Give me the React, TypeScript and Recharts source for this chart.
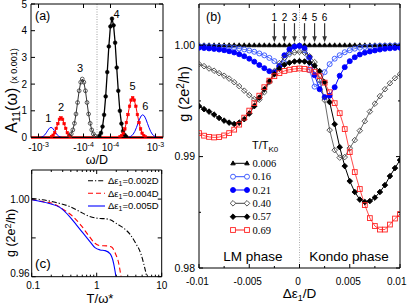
import React from 'react';
import { LineChart, ComposedChart, Line, XAxis, YAxis, ReferenceLine, ReferenceDot } from 'recharts';

const FONT = "'Liberation Sans', Arial, Helvetica, sans-serif";
const SERIF = "'Liberation Serif', 'Times New Roman', serif";

// ---------------- Panel (a): A11(omega), symmetric log axis ----------------
// x position u = sign(omega) * (log10|omega| + A_LOG_OFFSET)
const A_LOG_OFFSET = 4.3;
const A_EDGE_LOG = -2.8333; // |omega|/D at the plot edges
const aTickDefs = [
  { side: -1, exp: -3 },
  { side: -1, exp: -4 },
  { side: 1, exp: -4 },
  { side: 1, exp: -3 },
];
const aYTicks = [0, 1, 2, 3, 4, 5];

// [log10|omega/D|, A11 (x0.001)]
const peak1 = { side: -1, pts: [[-3.523, 0], [-3.488, 0.017], [-3.453, 0.043], [-3.418, 0.095], [-3.383, 0.174], [-3.348, 0.27], [-3.313, 0.35], [-3.278, 0.38], [-3.243, 0.35], [-3.208, 0.27], [-3.173, 0.174], [-3.138, 0.095], [-3.103, 0.043], [-3.068, 0.017], [-3.033, 0]] };
const peak2 = { side: -1, pts: [[-3.745, 0], [-3.71, 0.033], [-3.675, 0.084], [-3.64, 0.18], [-3.605, 0.34], [-3.57, 0.52], [-3.535, 0.68], [-3.5, 0.74], [-3.465, 0.68], [-3.43, 0.52], [-3.395, 0.34], [-3.36, 0.18], [-3.325, 0.084], [-3.29, 0.033], [-3.255, 0]] };
const peak3 = { side: -1, pts: [[-4.288, 0], [-4.253, 0.058], [-4.218, 0.136], [-4.183, 0.285], [-4.148, 0.53], [-4.113, 0.88], [-4.078, 1.31], [-4.043, 1.75], [-4.008, 2.07], [-3.973, 2.19], [-3.938, 2.07], [-3.903, 1.75], [-3.868, 1.31], [-3.833, 0.88], [-3.798, 0.53], [-3.763, 0.285], [-3.728, 0.136], [-3.693, 0.058], [-3.658, 0]] };
const peak4 = { side: 1, pts: [[-4.282, 0], [-4.247, 0.06], [-4.212, 0.17], [-4.177, 0.41], [-4.142, 0.85], [-4.107, 1.54], [-4.072, 2.45], [-4.037, 3.41], [-4.002, 4.16], [-3.967, 4.45], [-3.932, 4.2], [-3.897, 3.55], [-3.862, 2.62], [-3.827, 1.75], [-3.792, 1.0], [-3.757, 0.52], [-3.722, 0.24], [-3.687, 0.1], [-3.652, 0.03], [-3.617, 0]] };
const peak5 = { side: 1, pts: [[-3.822, 0], [-3.787, 0.03], [-3.752, 0.074], [-3.717, 0.16], [-3.682, 0.32], [-3.647, 0.56], [-3.612, 0.86], [-3.577, 1.17], [-3.542, 1.4], [-3.507, 1.49], [-3.472, 1.4], [-3.437, 1.17], [-3.402, 0.86], [-3.367, 0.56], [-3.332, 0.32], [-3.297, 0.16], [-3.262, 0.074], [-3.227, 0.03], [-3.192, 0]] };
const peak6 = { side: 1, pts: [[-3.599, 0], [-3.564, 0.03], [-3.529, 0.068], [-3.494, 0.13], [-3.459, 0.23], [-3.424, 0.37], [-3.389, 0.53], [-3.354, 0.69], [-3.319, 0.81], [-3.284, 0.85], [-3.249, 0.81], [-3.214, 0.69], [-3.179, 0.53], [-3.144, 0.37], [-3.109, 0.23], [-3.074, 0.13], [-3.039, 0.068], [-3.004, 0.03], [-2.969, 0]] };
const peakLabels = ['1', '2', '3', '4', '5', '6'];

// ---------------- Panel (b): g vs delta eps1 ----------------
const epsGrid = [-0.01, -0.0095, -0.009, -0.0085, -0.008, -0.0075, -0.007, -0.0065, -0.006, -0.0055, -0.005, -0.0045, -0.004, -0.0035, -0.003, -0.0025, -0.002, -0.0015, -0.001, -0.0005, 0, 0.0005, 0.001, 0.0015, 0.002, 0.0025, 0.003, 0.0035, 0.004, 0.0045, 0.005, 0.0055, 0.006, 0.0065, 0.007, 0.0075, 0.008, 0.0085, 0.009, 0.0095, 0.01];
const g006 = [1, 1, 1, 1, 1, 1, 1, 1, 1, 1, 1, 1, 1, 1, 1, 1, 1, 1, 1, 1, 1, 1, 1, 1, 1, 1, 1, 1, 1, 1, 1, 1, 1, 1, 1, 1, 1, 1, 1, 1, 1];
const g016 = [0.99993, 0.99992, 0.99991, 0.99989, 0.99987, 0.99985, 0.99981, 0.99977, 0.9997, 0.99962, 0.99952, 0.99941, 0.99926, 0.99909, 0.99886, 0.99857, 0.99816, 0.99839, 0.99937, 0.99987, 0.99996, 0.99955, 0.99776, 0.99628, 0.9965, 0.99758, 0.9983, 0.99879, 0.9991, 0.99937, 0.99955, 0.99969, 0.99978, 0.99984, 0.99988, 0.99992, 0.99995, 0.99996, 0.99997, 0.99998, 0.99999];
const g021 = [0.99978, 0.99975, 0.99971, 0.99967, 0.99961, 0.99955, 0.99946, 0.99935, 0.99919, 0.99901, 0.99879, 0.99852, 0.99822, 0.99794, 0.99767, 0.99758, 0.99812, 0.9991, 0.99964, 0.99987, 0.99993, 0.99973, 0.99892, 0.99731, 0.99605, 0.99534, 0.99547, 0.99623, 0.99726, 0.99803, 0.99857, 0.99892, 0.99917, 0.99933, 0.99944, 0.99953, 0.99961, 0.99968, 0.99972, 0.99976, 0.99978];
const g040 = [0.9983, 0.99812, 0.99791, 0.99771, 0.99749, 0.99726, 0.997, 0.99668, 0.99632, 0.99592, 0.99552, 0.99516, 0.99511, 0.99578, 0.99668, 0.99767, 0.99839, 0.99888, 0.99919, 0.99935, 0.9994, 0.99933, 0.99901, 0.99848, 0.99686, 0.99507, 0.99238, 0.99058, 0.98991, 0.98996, 0.99076, 0.99148, 0.99233, 0.99318, 0.99404, 0.99475, 0.99543, 0.99605, 0.99659, 0.99704, 0.9974];
const g057 = [0.99453, 0.99426, 0.99404, 0.99377, 0.99347, 0.99323, 0.99305, 0.99293, 0.99305, 0.99336, 0.99386, 0.99453, 0.99529, 0.99605, 0.99677, 0.9974, 0.99789, 0.99825, 0.99843, 0.99854, 0.99857, 0.99854, 0.99843, 0.99816, 0.99767, 0.99668, 0.99489, 0.99291, 0.99085, 0.98915, 0.9878, 0.98682, 0.98614, 0.98592, 0.98601, 0.98632, 0.98682, 0.98744, 0.98825, 0.98897, 0.98969];
const g069 = [0.99211, 0.99188, 0.99177, 0.99172, 0.99175, 0.9919, 0.99211, 0.99242, 0.99287, 0.9935, 0.99413, 0.9948, 0.99547, 0.99623, 0.99682, 0.99722, 0.99749, 0.99769, 0.9978, 0.99787, 0.99791, 0.99787, 0.9978, 0.99762, 0.99722, 0.99664, 0.99578, 0.9948, 0.9939, 0.99247, 0.9904, 0.98861, 0.98709, 0.98565, 0.98448, 0.98377, 0.98345, 0.98345, 0.9839, 0.98444, 0.98484];
const arrowEps = [-0.0025, -0.0015, -0.0005, 0.0005, 0.0015, 0.0025];
const arrowLabels = ['1', '2', '3', '4', '5', '6'];
const bXTicks = [-0.01, -0.0075, -0.005, -0.0025, 0, 0.0025, 0.005, 0.0075, 0.01];
const bYTicks = [0.98, 0.985, 0.99, 0.995, 1.0];
const bDomainY: [number, number] = [0.98, 1.0037];

// ---------------- Panel (c): g vs T/omega* ----------------
const cT1 = [0.1, 0.146, 0.237, 0.383, 0.548, 0.739, 0.94, 1.126, 1.349, 1.614, 2.05, 2.6, 3.31, 3.97, 4.75, 5.35, 5.89];
const cG1 = [1.0003, 0.99964, 0.99824, 0.99618, 0.99359, 0.99137, 0.9903, 0.99, 0.9899, 0.9893, 0.98724, 0.98501, 0.98155, 0.97726, 0.97209, 0.96605, 0.96];
const cT2 = [0.1, 0.146, 0.21, 0.301, 0.431, 0.583, 0.739, 0.94, 1.126, 1.433, 1.715, 1.93, 2.18, 2.37];
const cG2 = [0.9998, 0.99876, 0.9978, 0.99483, 0.99101, 0.9862, 0.98155, 0.97726, 0.97602, 0.97587, 0.97519, 0.97209, 0.96693, 0.96];
const cT3 = [0.1, 0.186, 0.267, 0.383, 0.487, 0.618, 0.786, 0.94, 1.126, 1.349, 1.614, 1.82, 1.98];
const cG3 = [0.9997, 0.99775, 0.99587, 0.99101, 0.98672, 0.98243, 0.97809, 0.97499, 0.9738, 0.97344, 0.97173, 0.96693, 0.96];
const cXTicks = [0.1, 0.2, 0.3, 0.4, 0.5, 0.6, 0.7, 0.8, 0.9, 1, 2, 3, 4, 5, 6, 7, 8, 9, 10];
const cYTicks = [0.96, 0.98, 1.0];
const cLegend = ['0.002D', '0.004D', '0.005D'];

// ---------------- helpers ----------------
type Side = 'bottom' | 'top' | 'left' | 'right';
function makeTick(side: Side, opts: { isMajor?: (v: number) => boolean; label?: (v: number) => any; major?: number; minor?: number; gap?: number; fontSize?: number; dx?: (v: number) => number; dy?: (v: number) => number; anchor?: (v: number) => string }) {
  return (props: any) => {
    const { x, y, payload } = props;
    const v = payload ? payload.value : 0;
    const maj = opts.isMajor ? opts.isMajor(v) : true;
    const len = maj ? (opts.major ?? 4) : (opts.minor ?? 2);
    let x2 = x, y2 = y;
    if (side === 'bottom') y2 = y - len;
    if (side === 'top') y2 = y + len;
    if (side === 'left') x2 = x + len;
    if (side === 'right') x2 = x - len;
    const lab = opts.label ? opts.label(v) : null;
    const fs = opts.fontSize ?? 10;
    let t: any = null;
    if (lab != null) {
      const dx = opts.dx ? opts.dx(v) : 0;
      const dy = opts.dy ? opts.dy(v) : 0;
      const anchor: any = opts.anchor ? opts.anchor(v) : 'middle';
      if (side === 'bottom') t = <text x={x + dx} y={y + (opts.gap ?? 12) + dy} textAnchor={anchor} fontSize={fs} fontFamily={FONT} fill="#000">{lab}</text>;
      if (side === 'left') t = <text x={x - (opts.gap ?? 3) + dx} y={y + fs * 0.35 + dy} textAnchor="end" fontSize={fs} fontFamily={FONT} fill="#000">{lab}</text>;
    }
    return (
      <g>
        <line x1={x} y1={y} x2={x2} y2={y2} stroke="#000" strokeWidth={1} />
        {t}
      </g>
    );
  };
}

function Marker({ cx, cy, kind, s, stroke, fill, sw }: any) {
  if (kind === 'circle') return <circle cx={cx} cy={cy} r={s} stroke={stroke} fill={fill} strokeWidth={sw} />;
  if (kind === 'square') return <rect x={cx - s} y={cy - s} width={2 * s} height={2 * s} stroke={stroke} fill={fill} strokeWidth={sw} />;
  if (kind === 'diamond') return <polygon points={`${cx},${cy - s} ${cx + s},${cy} ${cx},${cy + s} ${cx - s},${cy}`} stroke={stroke} fill={fill} strokeWidth={sw} />;
  if (kind === 'triangle') return <polygon points={`${cx},${cy - s} ${cx + s * 0.95},${cy + s * 0.65} ${cx - s * 0.95},${cy + s * 0.65}`} stroke={stroke} fill={fill} strokeWidth={sw} />;
  return null;
}
const dotFn = (kind: string, s: number, stroke: string, fill: string, sw: number, skipZeroKey?: string) => (props: any) => {
  const { cx, cy, index, payload } = props;
  if (cx == null || cy == null || (skipZeroKey && payload && payload[skipZeroKey] === 0)) return <g key={`k${index}`} />;
  return <g key={`k${index}`}><Marker cx={cx} cy={cy} kind={kind} s={s} stroke={stroke} fill={fill} sw={sw} /></g>;
};

const axisCommon = { interval: 0 as const, tickSize: 0, tickMargin: 0, tickLine: false, allowDataOverflow: true, axisLine: { stroke: '#000', strokeWidth: 1 } };

// ---------------- Panel A ----------------
const aU = (side: number, lg: number) => side * (lg + A_LOG_OFFSET);
const aEdgeU = A_EDGE_LOG + A_LOG_OFFSET;
function buildPeak(p: { side: number; pts: number[][] }) {
  const inner = p.pts.map(([lg, a]) => ({ u: aU(p.side, lg), a }));
  return [{ u: -aEdgeU, a: 0 }, ...inner, { u: aEdgeU, a: 0 }].sort((m, n) => m.u - n.u);
}
const aSeries = [
  { data: buildPeak(peak1), color: '#0000ff', kind: 'none' },
  { data: buildPeak(peak2), color: '#ff0000', kind: 'square' },
  { data: buildPeak(peak3), color: '#333333', kind: 'circle' },
  { data: buildPeak(peak4), color: '#000000', kind: 'fcircle' },
  { data: buildPeak(peak5), color: '#ff0000', kind: 'square' },
  { data: buildPeak(peak6), color: '#0000ff', kind: 'none' },
];
const aLabelOffsets = [[-2.7, -9.4], [0, -10.4], [-2.3, -11.3], [4.7, -4.7], [0, -11.7], [2.6, -8.8]];
const aTickU = aTickDefs.map((t) => aU(t.side, t.exp));
const aTickLabel = (v: number) => {
  const i = aTickU.findIndex((u) => Math.abs(u - v) < 1e-6);
  if (i < 0) return null;
  const t = aTickDefs[i];
  return [<tspan key="b">{t.side < 0 ? '-' : ''}10</tspan>, <tspan key="e" dy={-4} fontSize={7}>{t.exp}</tspan>];
};

function PanelA() {
  return (
    <LineChart width={200} height={165} margin={{ top: 3, right: 36, bottom: 26.5, left: 30 }}>
      <XAxis dataKey="u" type="number" domain={[-aEdgeU, aEdgeU]} ticks={aTickU} height={1} {...axisCommon} tick={makeTick('bottom', { label: aTickLabel, gap: 13.5, fontSize: 10 })} />
      <XAxis xAxisId="top" dataKey="u" type="number" orientation="top" domain={[-aEdgeU, aEdgeU]} ticks={aTickU} height={1} {...axisCommon} tick={makeTick('top', {})} />
      <YAxis type="number" domain={[0, 5]} ticks={aYTicks} width={1} {...axisCommon} tick={makeTick('left', { label: (v) => String(v), gap: 4, fontSize: 10 })} />
      <YAxis yAxisId="right" orientation="right" type="number" domain={[0, 5]} ticks={aYTicks} width={1} {...axisCommon} tick={makeTick('right', {})} />
      <ReferenceLine x={0} stroke="#888" strokeDasharray="1 1.5" strokeWidth={0.8} />
      <ReferenceLine y={0} stroke="#ff0000" strokeWidth={2.5} />
      {aSeries.map((s, i) => (
        <Line key={i} data={s.data} dataKey="a" type="linear" stroke={s.color} strokeWidth={s.kind === 'fcircle' ? 1.3 : 1} isAnimationActive={false}
          dot={s.kind === 'none' ? false : s.kind === 'square' ? dotFn('square', 1.3, '#ff0000', '#ff0000', 0.5, 'a') : s.kind === 'circle' ? dotFn('circle', 1.9, '#333', 'none', 0.8, 'a') : dotFn('circle', 1.9, '#000', '#000', 0.5, 'a')}
          activeDot={false} />
      ))}
      {aSeries.map((s, i) => {
        const top = s.data.reduce((m, p) => (p.a > m.a ? p : m), s.data[0]);
        const [dx, dy] = aLabelOffsets[i];
        return (
          <ReferenceDot key={`l${i}`} x={top.u} y={top.a} r={2}
            shape={(p: any) => <text x={p.cx + dx} y={p.cy + dy + 4} textAnchor="middle" fontSize={11} fontFamily={FONT} fill="#000">{peakLabels[i]}</text>} />
        );
      })}
    </LineChart>
  );
}

// ---------------- Panel B ----------------
const bSeries = [
  { key: 's006', values: g006, name: '0.006', color: '#000000', kind: 'triangle', fill: '#000000', s: 2.4 },
  { key: 's016', values: g016, name: '0.16', color: '#3050ff', kind: 'circle', fill: 'none', s: 2.5 },
  { key: 's021', values: g021, name: '0.21', color: '#0000ff', kind: 'circle', fill: '#0000ff', s: 2.5 },
  { key: 's040', values: g040, name: '0.40', color: '#444444', kind: 'diamond', fill: 'none', s: 2.8 },
  { key: 's057', values: g057, name: '0.57', color: '#000000', kind: 'diamond', fill: '#000000', s: 2.8 },
  { key: 's069', values: g069, name: '0.69', color: '#ff2020', kind: 'square', fill: 'none', s: 2.4 },
];
const bData = epsGrid.map((e, i) => {
  const row: any = { e };
  bSeries.forEach((s) => { row[s.key] = s.values[i]; });
  return row;
});
const near = (v: number, step: number) => Math.abs(v / step - Math.round(v / step)) < 1e-6;

function PanelB() {
  return (
    <ComposedChart width={247} height={307} data={bData} margin={{ top: 3, right: 6, bottom: 38, left: 38 }}>
      <XAxis dataKey="e" type="number" domain={[-0.01, 0.01]} ticks={bXTicks} height={1} {...axisCommon}
        tick={makeTick('bottom', {
          isMajor: (v) => near(v, 0.005), label: (v) => (near(v, 0.005) ? String(Math.round(v * 1000) / 1000) : null), gap: 17, fontSize: 10,
          dx: (v) => (v > 0.009 ? 6.5 : -1.5), anchor: (v) => (v > 0.009 ? 'end' : 'middle'),
        })} />
      <XAxis xAxisId="top" dataKey="e" type="number" orientation="top" domain={[-0.01, 0.01]} ticks={bXTicks} height={1} {...axisCommon}
        tick={makeTick('top', { isMajor: (v) => near(v, 0.005) })} />
      <YAxis type="number" domain={bDomainY} ticks={bYTicks} width={1} {...axisCommon}
        tick={makeTick('left', { isMajor: (v) => near(v, 0.01), label: (v) => (near(v, 0.01) ? v.toFixed(2) : null), gap: 4, fontSize: 10.5 })} />
      <YAxis yAxisId="right" orientation="right" type="number" domain={bDomainY} ticks={bYTicks} width={1} {...axisCommon}
        tick={makeTick('right', { isMajor: (v) => near(v, 0.01) })} />
      <ReferenceLine x={0} stroke="#999" strokeDasharray="1 1.5" strokeWidth={0.8} />
      {bSeries.map((s) => (
        <Line key={s.key} dataKey={s.key} type="linear" stroke={s.color} strokeWidth={s.fill === 'none' ? 0.8 : 1} isAnimationActive={false}
          dot={dotFn(s.kind, s.s, s.color, s.fill, 0.9)} activeDot={false} />
      ))}
      {arrowEps.map((e, i) => (
        <ReferenceDot key={`a${i}`} x={e} y={1.00027} r={2}
          shape={(p: any) => (
            <g>
              <line x1={p.cx} y1={p.cy - 19} x2={p.cx} y2={p.cy - 5} stroke="#333" strokeWidth={1.2} />
              <polygon points={`${p.cx - 2.3},${p.cy - 6} ${p.cx + 2.3},${p.cy - 6} ${p.cx},${p.cy}`} fill="#333" />
              <text x={p.cx} y={p.cy - 21.5} textAnchor="middle" fontSize={10} fontFamily={FONT} fill="#000">{arrowLabels[i]}</text>
            </g>
          )} />
      ))}
    </ComposedChart>
  );
}

// ---------------- Panel C ----------------
const cSeries = [
  { data: cT1.map((t, i) => ({ t, g: cG1[i] })), color: '#000000', dash: '5 2 1.2 2' },
  { data: cT2.map((t, i) => ({ t, g: cG2[i] })), color: '#ff0000', dash: '5 3' },
  { data: cT3.map((t, i) => ({ t, g: cG3[i] })), color: '#0000ff', dash: undefined as any },
];
const cMajor = (v: number) => Math.abs(Math.log10(v) - Math.round(Math.log10(v))) < 1e-6;

function PanelC() {
  return (
    <LineChart width={200} height={157} margin={{ top: 19, right: 37.3, bottom: 29.3, left: 30.7 }}>
      <XAxis dataKey="t" type="number" scale="log" domain={[0.1, 10]} ticks={cXTicks} height={1} {...axisCommon}
        tick={makeTick('bottom', { isMajor: cMajor, label: (v) => (cMajor(v) ? String(v) : null), gap: 12, fontSize: 10, dx: (v) => (v < 0.15 ? 1.5 : 0) })} />
      <XAxis xAxisId="top" dataKey="t" type="number" scale="log" orientation="top" domain={[0.1, 10]} ticks={cXTicks} height={1} {...axisCommon}
        tick={makeTick('top', { isMajor: cMajor })} />
      <YAxis type="number" domain={[0.96, 1.015]} ticks={cYTicks} width={1} {...axisCommon}
        tick={makeTick('left', { label: (v) => (Math.abs(v - 0.98) < 1e-6 ? null : v.toFixed(2)), gap: 2, fontSize: 10, dy: (v) => (v < 0.965 ? -3 : 0) })} />
      <YAxis yAxisId="right" orientation="right" type="number" domain={[0.96, 1.015]} ticks={cYTicks} width={1} {...axisCommon}
        tick={makeTick('right', {})} />
      {cSeries.map((s, i) => (
        <Line key={i} data={s.data} dataKey="g" type="monotone" stroke={s.color} strokeWidth={1.1} strokeDasharray={s.dash} dot={false} activeDot={false} isAnimationActive={false} />
      ))}
    </LineChart>
  );
}

// ---------------- Overlay texts / legends ----------------
function Overlay() {
  const bRows = [163.3, 176.7, 190, 203.3, 216.7, 230];
  const cRows = [180.7, 193.3, 206];
  return (
    <svg width={407} height={307} style={{ position: 'absolute', left: 0, top: 0, pointerEvents: 'none' }} fontFamily={FONT}>
      <text x={35} y={19.5} fontSize={12.5}>(a)</text>
      <text x={206} y={21} fontSize={12.5}>(b)</text>
      <text x={35} y={268} fontSize={13.5}>(c)</text>
      <text x={97} y={164} fontSize={12.5} textAnchor="middle">ω/D</text>
      <text transform="translate(17,133) rotate(-90)" fontSize={16}>
        <tspan>A</tspan><tspan fontSize={11} dy={3}>11</tspan><tspan dy={-3}>(ω)</tspan><tspan fontSize={9} dx={4}>(x 0.001)</tspan>
      </text>
      <text transform="translate(189,94) rotate(-90)" fontSize={14.5} textAnchor="middle">
        <tspan>g (2e</tspan><tspan fontSize={10} dy={-5}>2</tspan><tspan dy={5}>/h)</tspan>
      </text>
      <text x={299.5} y={298} fontSize={13.5} textAnchor="middle">
        <tspan>Δε</tspan><tspan fontSize={9} dy={3}>1</tspan><tspan dy={-3}>/D</tspan>
      </text>
      <text x={253} y={261} fontSize={13.5} textAnchor="middle">LM phase</text>
      <text x={349} y={261} fontSize={13.5} textAnchor="middle">Kondo phase</text>
      <text x={252} y={149} fontSize={11}>
        <tspan>T/T</tspan><tspan fontSize={8} dy={3}>K0</tspan>
      </text>
      {bSeries.map((s, i) => (
        <g key={s.key}>
          <line x1={233} y1={bRows[i]} x2={247} y2={bRows[i]} stroke={s.color} strokeWidth={1} />
          <Marker cx={233} cy={bRows[i]} kind={s.kind} s={s.s} stroke={s.color} fill={s.fill === 'none' ? '#fff' : s.fill} sw={0.9} />
          <Marker cx={247} cy={bRows[i]} kind={s.kind} s={s.s} stroke={s.color} fill={s.fill === 'none' ? '#fff' : s.fill} sw={0.9} />
          <text x={252.5} y={bRows[i] + 3.6} fontSize={10.5} fontFamily={SERIF}>{s.name}</text>
        </g>
      ))}
      {cSeries.map((s, i) => (
        <g key={i}>
          <line x1={88} y1={cRows[i]} x2={105} y2={cRows[i]} stroke={s.color} strokeWidth={1.1} strokeDasharray={s.dash} />
          <text x={108} y={cRows[i] + 3.3} fontSize={9.5}>
            <tspan>Δε</tspan><tspan fontSize={7} dy={2}>1</tspan><tspan dy={-2}>={cLegend[i]}</tspan>
          </text>
        </g>
      ))}
      <text transform="translate(15,233) rotate(-90)" fontSize={12.5} textAnchor="middle">
        <tspan>g (2e</tspan><tspan fontSize={9} dy={-4}>2</tspan><tspan dy={4}>/h)</tspan>
      </text>
      <text x={100} y={303} fontSize={13} textAnchor="middle">T/ω*</text>
    </svg>
  );
}

export default function App() {
  return (
    <div style={{ position: 'absolute', left: 0, top: 0, width: 407, height: 307, background: '#fff', overflow: 'hidden', fontFamily: FONT }}>
      <div style={{ position: 'absolute', left: 0, top: 0 }}><PanelA /></div>
      <div style={{ position: 'absolute', left: 0, top: 150 }}><PanelC /></div>
      <div style={{ position: 'absolute', left: 160, top: 0 }}><PanelB /></div>
      <Overlay />
    </div>
  );
}
